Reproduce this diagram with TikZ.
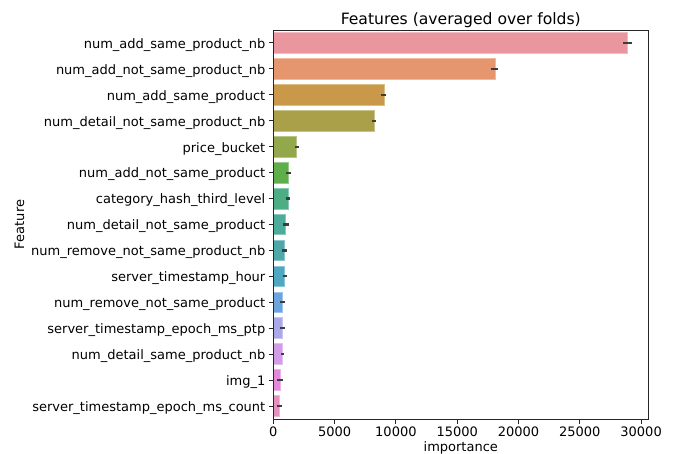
\documentclass[tikz,border=0pt]{standalone}
\usepackage{fontspec}
\setmainfont{DejaVu Sans}
\definecolor{c1}{HTML}{E9969F}
\definecolor{c2}{HTML}{E5966F}
\definecolor{c3}{HTML}{C99848}
\definecolor{c4}{HTML}{ABA04A}
\definecolor{c5}{HTML}{92A84A}
\definecolor{c6}{HTML}{5EAF4A}
\definecolor{c7}{HTML}{4DAE85}
\definecolor{c8}{HTML}{4DAB99}
\definecolor{c9}{HTML}{4DA9A9}
\definecolor{c10}{HTML}{4FA8C2}
\definecolor{c11}{HTML}{6BA4DE}
\definecolor{c12}{HTML}{ABA8EA}
\definecolor{c13}{HTML}{D29CE6}
\definecolor{c14}{HTML}{E488DB}
\definecolor{c15}{HTML}{E68FC1}
\definecolor{errc}{HTML}{3D3D3D}
\definecolor{axc}{HTML}{262626}
\begin{document}
\begin{tikzpicture}[x=1pt,y=-1pt,
  ylab/.style={anchor=base east,inner sep=0pt,font=\fontsize{13}{15}\selectfont},
  xlab/.style={anchor=north,inner sep=0pt,font=\fontsize{13}{15}\selectfont},
  errbar/.style={draw=errc,line width=2.2pt},
  axline/.style={draw=axc,line width=1pt},
  tickline/.style={draw=axc,line width=1pt}]
\useasboundingbox (0,0) rectangle (675,453);
\def\xo{273.3}
\def\sc{12.26}
% bars and error bars
\foreach \v/\lo/\hi/\c [count=\i from 0] in {
  28.9/28.52/29.26/c1,
  18.08/17.75/18.32/c2,
  9.03/8.76/9.19/c3,
  8.21/8.03/8.38/c4,
  1.91/1.77/2.10/c5,
  1.20/1.0/1.44/c6,
  1.22/1.04/1.39/c7,
  0.98/0.79/1.28/c8,
  0.87/0.71/1.09/c9,
  0.92/0.77/1.09/c10,
  0.77/0.55/0.98/c11,
  0.77/0.55/0.93/c12,
  0.71/0.63/0.87/c13,
  0.55/0.33/0.77/c14,
  0.49/0.28/0.71/c15}{
  \pgfmathsetmacro\yc{30+25.933*(\i+0.5)}
  \filldraw[fill=\c,draw=\c!65!white,line width=0.8pt] (\xo,{\yc-10.37}) rectangle ({\xo+\sc*\v},{\yc+10.37});
  \draw[errbar] ({\xo+\sc*\lo},\yc) -- ({\xo+\sc*\hi},\yc);
  \draw[tickline] (268.7,\yc) -- (\xo,\yc);
}
% y labels
\foreach \t [count=\i from 0] in {
  num\_add\_same\_product\_nb,
  num\_add\_not\_same\_product\_nb,
  num\_add\_same\_product,
  num\_detail\_not\_same\_product\_nb,
  price\_bucket,
  num\_add\_not\_same\_product,
  category\_hash\_third\_level,
  num\_detail\_not\_same\_product,
  num\_remove\_not\_same\_product\_nb,
  server\_timestamp\_hour,
  num\_remove\_not\_same\_product,
  server\_timestamp\_epoch\_ms\_ptp,
  num\_detail\_same\_product\_nb,
  img\_1,
  server\_timestamp\_epoch\_ms\_count}{
  \pgfmathsetmacro\yc{30+25.933*(\i+0.5)}
  \node[ylab] (ylab\i) at (265.5,{\yc+5.3}) {\t};
}
% x ticks
\foreach \t [count=\i from 0] in {0,5000,10000,15000,20000,25000,30000}{
  \pgfmathsetmacro\xx{\xo+\sc*5*\i}
  \draw[tickline] (\xx,419) -- (\xx,423.6);
  \node[xlab] (xlab\i) at (\xx,427) {\t};
}
% frame
\draw[axline] (\xo,30) rectangle (648.3,419);
% axis labels and title
\node[anchor=base,inner sep=0pt,font=\fontsize{13}{15}\selectfont] (xtitle) at (460.8,451.5) {importance};
\node[anchor=base,inner sep=0pt,rotate=90,font=\fontsize{13}{15}\selectfont] (ytitle) at (24,224.5) {Feature};
\node[anchor=base,inner sep=0pt,font=\fontsize{15.6}{18}\selectfont] (title) at (460.8,24) {Features (averaged over folds)};
\end{tikzpicture}
\end{document}
